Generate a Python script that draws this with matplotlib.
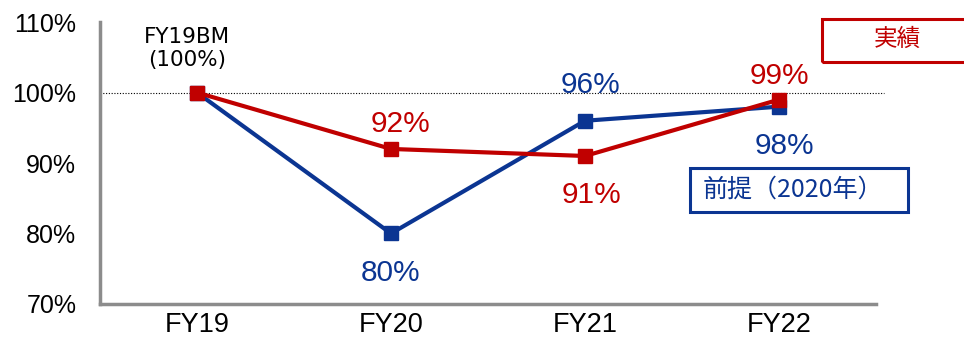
import matplotlib.pyplot as plt
from matplotlib.patches import Rectangle

years = ['FY19', 'FY20', 'FY21', 'FY22']
plan = [100, 80, 96, 98]     # 前提（2020年）
actual = [100, 92, 91, 99]   # 実績
yticks = [70, 80, 90, 100, 110]

blue = '#0B3592'
red = '#C00000'

plt.rcParams['font.family'] = ['Liberation Sans', 'Noto Sans CJK JP']

fig = plt.figure(figsize=(9.64, 3.4), dpi=100)
ax = fig.add_axes([0.1037, 0.106, 0.805, 0.829])

x = list(range(len(years)))
ax.plot(x, plan, color=blue, lw=3, marker='s', ms=10, zorder=3)
ax.plot(x, actual, color=red, lw=3, marker='s', ms=10, zorder=4)

ax.set_xlim(-0.5, len(years) - 0.5)
ax.set_ylim(70, 110)
ax.set_yticks(yticks)
ax.set_yticklabels([f'{v}%' for v in yticks], fontsize=18)
ax.set_xticks(x)
ax.set_xticklabels(years, fontsize=19.5)
ax.tick_params(axis='x', length=0, pad=6)
ax.tick_params(axis='y', length=0, pad=17)

for side in ['top', 'right']:
    ax.spines[side].set_visible(False)
for side in ['left', 'bottom']:
    ax.spines[side].set_color('#8C8C8C')
    ax.spines[side].set_linewidth(2.5)

ax.plot([-0.5, 3.54], [100, 100], color='black', lw=0.8, ls=(0, (1, 1.5)),
        clip_on=False, zorder=1)

# value labels, pixel offset (dx, dy) from each marker, dy > 0 is above
offsets_plan = [None, (0, -40), (6, 36), (5, -39)]
offsets_actual = [None, (10, 25), (7, -39), (0, 24)]
for i in range(1, len(years)):
    for vals, offs, c in [(plan, offsets_plan, blue), (actual, offsets_actual, red)]:
        ax.annotate(f'{vals[i]}%', (i, vals[i]), xytext=offs[i], textcoords='offset pixels',
                    ha='center', va='center', fontsize=21.5, color=c)

ax.text(-0.05, 106.3, 'FY19BM\n(100%)', ha='center', va='center', fontsize=15.5,
        family=['DejaVu Sans'], linespacing=1.2)

# series legend boxes
fig.text(897 / 964, 1 - 39 / 340, '実績', ha='center', va='center', fontsize=17, color=red,
         family=['Noto Sans CJK JP', 'DejaVu Sans'])
fig.add_artist(Rectangle((822 / 964, 1 - 62 / 340), 160 / 964, 43 / 340,
                         transform=fig.transFigure, fill=False, ec=red, lw=2.2))
fig.text(793 / 964, 1 - 190 / 340, '前提（2020年）', ha='center', va='center', fontsize=18,
         color=blue, family=['Noto Sans CJK JP', 'DejaVu Sans'])
fig.add_artist(Rectangle((690 / 964, 1 - 212 / 340), 218 / 964, 44 / 340,
                         transform=fig.transFigure, fill=False, ec=blue, lw=2.2))

fig.savefig('out.png', dpi=100)
